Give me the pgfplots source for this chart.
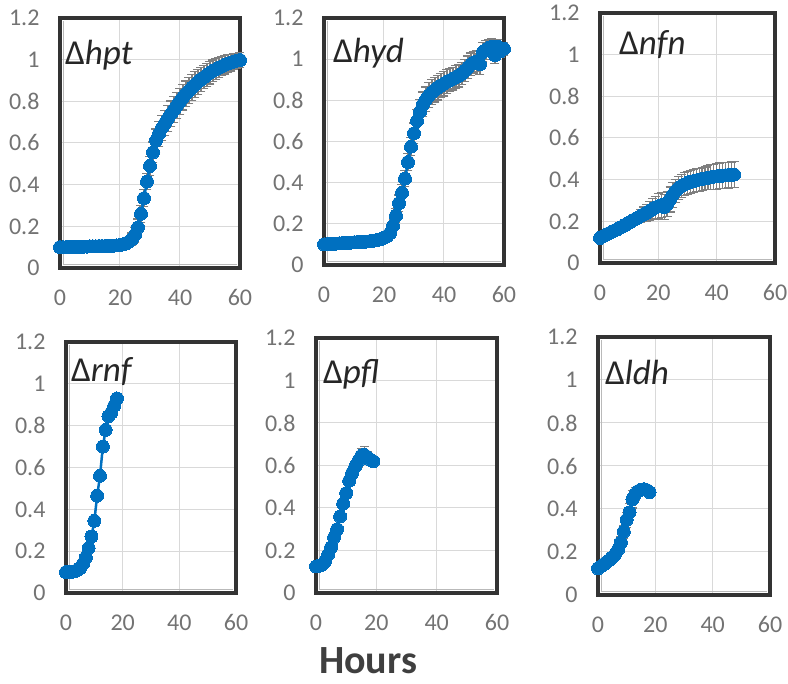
\documentclass[border=0pt]{standalone}
\usepackage{pgfplots}
\usepackage{pgfplotstable}
\pgfplotsset{compat=1.18}
\usepackage{fontspec}
\setmainfont{Carlito}
\definecolor{xblue}{HTML}{0070C0}
\definecolor{tickgray}{HTML}{737373}
\definecolor{framec}{HTML}{333333}
\definecolor{gridc}{HTML}{D9D9D9}
\definecolor{errc}{HTML}{7F7F7F}
\definecolor{labc}{HTML}{262626}
\definecolor{hoursc}{HTML}{3F3F3F}

\pgfplotstableread{
x y e
0 0.100 0.004
1 0.100 0.004
2 0.100 0.004
3 0.101 0.004
4 0.101 0.004
5 0.102 0.004
6 0.102 0.004
7 0.102 0.004
8 0.103 0.004
9 0.103 0.004
10 0.104 0.004
11 0.104 0.004
12 0.104 0.004
13 0.105 0.004
14 0.105 0.004
15 0.105 0.004
16 0.106 0.005
17 0.106 0.005
18 0.107 0.005
19 0.108 0.005
20 0.110 0.006
21 0.113 0.010
22 0.118 0.015
23 0.126 0.020
24 0.138 0.030
25 0.160 0.035
26 0.195 0.040
27 0.260 0.040
28 0.335 0.040
29 0.415 0.040
30 0.490 0.045
31 0.555 0.050
32 0.612 0.055
33 0.645 0.060
34 0.672 0.060
35 0.695 0.060
36 0.718 0.062
37 0.740 0.062
38 0.760 0.062
39 0.780 0.062
40 0.800 0.062
41 0.820 0.062
42 0.836 0.062
43 0.851 0.062
44 0.866 0.062
45 0.880 0.062
46 0.893 0.060
47 0.905 0.058
48 0.916 0.056
49 0.927 0.055
50 0.937 0.054
51 0.946 0.052
52 0.954 0.050
53 0.962 0.048
54 0.969 0.046
55 0.975 0.044
56 0.981 0.042
57 0.986 0.040
58 0.991 0.038
59 0.995 0.036
60 0.998 0.035
}\hpt

\pgfplotstableread{
x y e
0 0.100 0.004
1 0.101 0.004
2 0.102 0.004
3 0.103 0.004
4 0.104 0.004
5 0.105 0.004
6 0.106 0.004
7 0.107 0.004
8 0.108 0.004
9 0.109 0.004
10 0.110 0.004
11 0.111 0.004
12 0.112 0.004
13 0.113 0.004
14 0.114 0.004
15 0.115 0.005
16 0.117 0.005
17 0.119 0.005
18 0.122 0.006
19 0.126 0.008
20 0.132 0.010
21 0.140 0.015
22 0.155 0.020
23 0.190 0.030
24 0.240 0.035
25 0.300 0.040
26 0.350 0.040
27 0.420 0.040
28 0.500 0.040
29 0.575 0.045
30 0.640 0.050
31 0.700 0.055
32 0.745 0.058
33 0.780 0.060
34 0.805 0.060
35 0.825 0.060
36 0.840 0.060
37 0.852 0.060
38 0.862 0.060
39 0.872 0.060
40 0.881 0.060
41 0.890 0.058
42 0.898 0.056
43 0.905 0.055
44 0.913 0.055
45 0.920 0.055
46 0.930 0.055
47 0.945 0.055
48 0.960 0.055
49 0.975 0.055
50 0.985 0.052
51 0.990 0.050
52 0.975 0.050
53 1.035 0.045
54 1.045 0.045
55 1.055 0.040
56 1.060 0.040
57 1.020 0.040
58 1.060 0.035
59 1.040 0.030
60 1.050 0.030
}\hyd

\pgfplotstableread{
x y e
0 0.120 0.005
1 0.128 0.006
2 0.135 0.007
3 0.142 0.008
4 0.149 0.009
5 0.156 0.010
6 0.163 0.011
7 0.170 0.012
8 0.178 0.013
9 0.186 0.014
10 0.194 0.015
11 0.202 0.017
12 0.210 0.020
13 0.218 0.025
14 0.226 0.030
15 0.234 0.035
16 0.242 0.040
17 0.250 0.045
18 0.258 0.050
19 0.266 0.055
20 0.273 0.060
21 0.278 0.060
22 0.268 0.060
23 0.282 0.060
24 0.305 0.060
25 0.328 0.060
26 0.347 0.055
27 0.360 0.055
28 0.370 0.055
29 0.378 0.055
30 0.384 0.055
31 0.389 0.055
32 0.393 0.055
33 0.397 0.055
34 0.400 0.055
35 0.403 0.055
36 0.406 0.055
37 0.409 0.058
38 0.412 0.060
39 0.414 0.060
40 0.416 0.062
41 0.418 0.062
42 0.419 0.062
43 0.421 0.062
44 0.422 0.062
45 0.423 0.062
46 0.424 0.062
}\nfn

\pgfplotstableread{
x y e
0 0.100 0.004
1 0.100 0.004
2 0.101 0.004
3 0.104 0.004
4 0.110 0.005
5 0.120 0.006
6 0.140 0.008
7 0.170 0.010
8 0.215 0.012
9 0.270 0.012
10 0.345 0.012
11 0.465 0.012
12 0.560 0.012
13 0.700 0.012
14 0.780 0.012
15 0.845 0.012
16 0.862 0.012
17 0.895 0.012
18 0.930 0.012
}\rnf

\pgfplotstableread{
x y e
0 0.125 0.004
1 0.128 0.005
2 0.133 0.006
3 0.150 0.008
4 0.180 0.010
5 0.215 0.012
6 0.262 0.014
7 0.300 0.015
8 0.360 0.016
9 0.420 0.018
10 0.470 0.020
11 0.528 0.020
12 0.565 0.022
13 0.595 0.025
14 0.620 0.028
15 0.645 0.035
16 0.650 0.040
17 0.640 0.025
18 0.628 0.020
19 0.620 0.015
}\pfl

\pgfplotstableread{
x y e
0 0.124 0.004
1 0.133 0.004
2 0.143 0.005
3 0.153 0.006
4 0.163 0.007
5 0.175 0.008
6 0.190 0.010
7 0.212 0.015
8 0.245 0.025
9 0.295 0.030
10 0.350 0.035
11 0.385 0.040
12 0.445 0.040
13 0.470 0.030
14 0.483 0.020
15 0.490 0.012
16 0.492 0.010
17 0.488 0.008
18 0.478 0.006
}\ldh

\pgfplotsset{
  panel/.style={
    scale only axis,
    anchor=south west,
    xmin=0,xmax=60,ymin=0,ymax=1.2,
    xtick={0,20,40,60}, xticklabels={0,20,40,60},
    ytick={0,0.2,0.4,0.6,0.8,1,1.2}, yticklabels={0,0.2,0.4,0.6,0.8,1,1.2},
    grid=major, grid style={gridc, line width=1pt},
    major tick length=0pt,
    axis line style={draw=none},
    tick label style={font=\fontsize{24}{28}\selectfont, text=tickgray},
    xticklabel style={yshift=-18pt},
    yticklabel style={xshift=-17pt},
    clip=false,
    execute at begin axis={
      \draw[gray!55, line width=0.9pt] ([xshift=3.4pt,yshift=-3.4pt]rel axis cs:0,1) -- ([xshift=3.4pt,yshift=3.4pt]rel axis cs:0,0) -- ([xshift=-3.4pt,yshift=3.4pt]rel axis cs:1,0);
      \draw[framec, line width=3.6pt] (rel axis cs:0,0) rectangle (rel axis cs:1,1);
    },
  },
  ser/.style={xblue, line width=2.5pt, mark=*, mark size=6.5pt,
    mark options={fill=xblue, draw=xblue, line width=0pt}},
  err/.style={xblue, line width=1pt, mark=none, forget plot,
    error bars/.cd, y dir=both, y explicit,
    error bar style={errc, line width=1.2pt},
    error mark options={errc, rotate=90, mark size=4.5pt, line width=1.2pt}},
}
\newcommand{\plab}[3]{\node[anchor=base west, inner sep=0pt, text=labc,
  font=\fontsize{35}{40}\selectfont] at (#1pt,#2pt) {Δ\textit{#3}};}

\begin{document}
\begin{tikzpicture}
\useasboundingbox (0,0) rectangle (788pt,684pt);

\begin{axis}[panel, at={(60pt,416pt)}, width=180pt, height=250pt]
\addplot[err] table[x=x, y=y, y error=e] {\hpt};
\addplot[ser] table[x=x, y=y] {\hpt};
\end{axis}

\begin{axis}[panel, at={(324pt,419pt)}, width=180pt, height=247pt]
\addplot[err] table[x=x, y=y, y error=e] {\hyd};
\addplot[ser] table[x=x, y=y] {\hyd};
\end{axis}

\begin{axis}[panel, at={(600pt,421pt)}, width=175pt, height=250pt]
\addplot[err] table[x=x, y=y, y error=e] {\nfn};
\addplot[ser] table[x=x, y=y] {\nfn};
\end{axis}

\begin{axis}[panel, at={(66pt,91pt)}, width=170pt, height=251pt]
\addplot[err] table[x=x, y=y, y error=e] {\rnf};
\addplot[ser] table[x=x, y=y] {\rnf};
\end{axis}

\begin{axis}[panel, at={(316pt,91pt)}, width=181pt, height=255pt]
\addplot[err] table[x=x, y=y, y error=e] {\pfl};
\addplot[ser] table[x=x, y=y] {\pfl};
\end{axis}

\begin{axis}[panel, at={(598pt,89pt)}, width=172pt, height=258pt]
\addplot[err] table[x=x, y=y, y error=e] {\ldh};
\addplot[ser] table[x=x, y=y] {\ldh};
\end{axis}

\plab{65}{619}{hpt}
\plab{333}{621}{hyd}
\plab{619}{629}{nfn}
\plab{71}{302}{rnf}
\plab{323}{300}{pfl}
\plab{605}{299}{ldh}

\node[anchor=base, inner sep=0pt, text=hoursc, font=\fontsize{40}{46}\selectfont\bfseries] at (368pt,10pt) {Hours};
\end{tikzpicture}
\end{document}
